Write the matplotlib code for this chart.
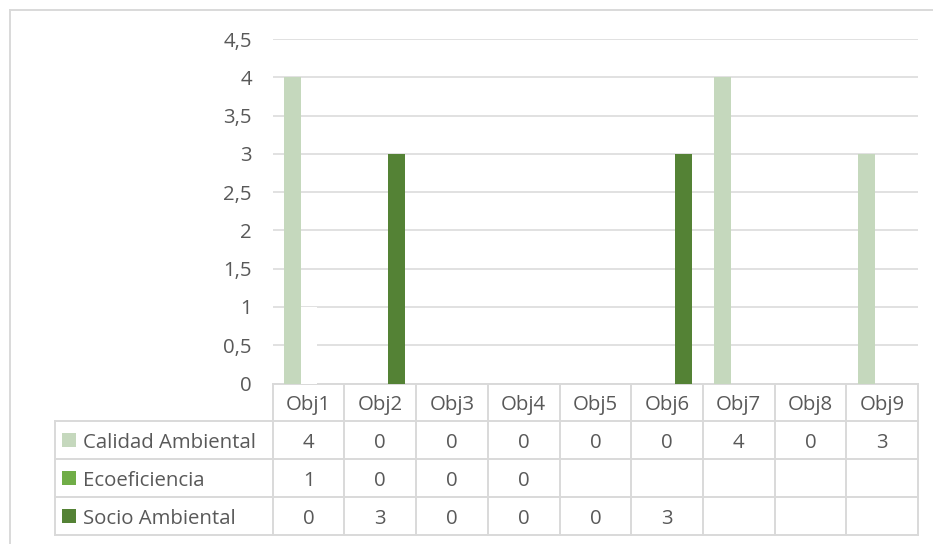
import numpy as np
import matplotlib
matplotlib.use("Agg")
import matplotlib.pyplot as plt

categories = ["Obj1", "Obj2", "Obj3", "Obj4", "Obj5", "Obj6", "Obj7", "Obj8", "Obj9"]
series_names = ["Calidad Ambiental", "Ecoeficiencia", "Socio Ambiental"]
calidad = [4, 0, 0, 0, 0, 0, 4, 0, 3]
ecoeficiencia = [1, 0, 0, 0, None, None, None, None, None]
socio = [0, 3, 0, 0, 0, 3, None, None, None]
y_ticks = [0, 0.5, 1, 1.5, 2, 2.5, 3, 3.5, 4, 4.5]

key_colors = ["#C5D8BD", "#70AD47", "#548235"]
bar_colors = ["#C5D8BD", "#FFFFFF", "#548235"]  # Ecoeficiencia is plotted in white
grid_color = "#D9D9D9"
text_color = "#595959"
FS = 14.7

plt.rcParams["font.family"] = ["Open Sans", "DejaVu Sans"]

W, H = 933, 544
fig = plt.figure(figsize=(W / 100, H / 100), dpi=100)

# plot area in pixels
px_left, px_right, px_top, px_bottom = 272.7, 918.0, 39.0, 383.5
ax = fig.add_axes([px_left / W, 1 - px_bottom / H,
                   (px_right - px_left) / W, (px_bottom - px_top) / H])
ax.set_zorder(2)
ax.patch.set_alpha(0)

x = np.arange(len(categories))
bar_w = 0.237
offsets = [-0.223, 0.0, 0.223]
all_series = [calidad, ecoeficiencia, socio]
for vals, off, col, z in zip(all_series, offsets, bar_colors, [4, 3, 4]):
    v = np.array([np.nan if a is None else a for a in vals], dtype=float)
    ax.bar(x + off, np.nan_to_num(v), width=bar_w, color=col, zorder=z, linewidth=0)

ax.set_xlim(-0.5, len(categories) - 0.5)
ax.set_ylim(0, 4.5)
ax.set_yticks(y_ticks)
ax.set_yticklabels([f"{t:g}".replace(".", ",") for t in y_ticks])
ax.tick_params(axis="y", length=0, pad=15, labelsize=FS, labelcolor=text_color)
ax.set_xticks([])
ax.yaxis.grid(True, color=grid_color, linewidth=1.1, zorder=0)
ax.set_axisbelow(True)
for s in ax.spines.values():
    s.set_visible(False)

# overlay in pixel coordinates for the data table and the outer border
ov = fig.add_axes([0, 0, 1, 1])
ov.set_xlim(0, W)
ov.set_ylim(H, 0)
ov.axis("off")
ov.set_zorder(1)

lc = "#D9D9D9"
lw = 1.4
# outer chart border (cropped on right/bottom)
ov.plot([9.5, W], [10, 10], color=lc, lw=lw)
ov.plot([9.5, 9.5], [10, H], color=lc, lw=lw)

n = len(categories)
col_w = (px_right - px_left) / n
col_edges = [px_left + i * col_w for i in range(n + 1)]
leg_left = 55
row_edges = [384, 421, 459, 497, 535]

# header row
ov.plot([px_left, px_right], [row_edges[0], row_edges[0]], color=lc, lw=lw)
for ye in row_edges[1:]:
    ov.plot([leg_left, px_right], [ye, ye], color=lc, lw=lw)
ov.plot([leg_left, leg_left], [row_edges[1], row_edges[-1]], color=lc, lw=lw)
for xe in col_edges:
    ov.plot([xe, xe], [row_edges[0], row_edges[-1]], color=lc, lw=lw)

for i, c in enumerate(categories):
    ov.text((col_edges[i] + col_edges[i + 1]) / 2, (row_edges[0] + row_edges[1]) / 2,
            c, ha="center", va="center_baseline", fontsize=FS, color=text_color)

for r, (name, vals, kc) in enumerate(zip(series_names, all_series, key_colors)):
    yc = (row_edges[r + 1] + row_edges[r + 2]) / 2
    ov.add_patch(plt.Rectangle((62, yc - 7), 14, 14, color=kc, lw=0))
    ov.text(83, yc, name, ha="left", va="center_baseline", fontsize=FS, color=text_color)
    for i, v in enumerate(vals):
        if v is None:
            continue
        ov.text((col_edges[i] + col_edges[i + 1]) / 2, yc, str(v),
                ha="center", va="center_baseline", fontsize=FS, color=text_color)

fig.savefig("out.png", dpi=100)
